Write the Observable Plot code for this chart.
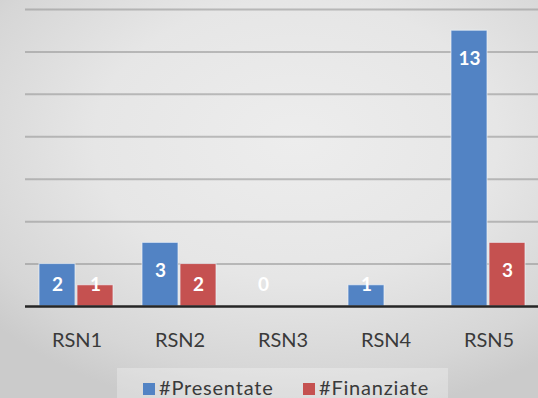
<!DOCTYPE html>
<html>
<head>
<meta charset="utf-8">
<script src="https://cdn.jsdelivr.net/npm/d3@7"></script>
<script src="https://cdn.jsdelivr.net/npm/@observablehq/plot@0.6"></script>
<style>
  html, body { margin: 0; padding: 0; }
  body {
    width: 538px; height: 398px; overflow: hidden; position: relative;
    font-family: Lato, "Open Sans", sans-serif;
    background: radial-gradient(ellipse 75% 70% at 55% 35%, #ededed 0%, #e6e6e6 50%, #d6d6d6 85%, #cbcbcb 100%);
  }
  #chart svg { display: block; background: transparent; }
  #legend {
    position: absolute; left: 117px; top: 368px; width: 331px; height: 40px;
    background: rgba(255,255,255,0.28);
    font-size: 20px; color: #3a3a3a; letter-spacing: 0.8px;
  }
  #legend .item { position: absolute; top: 7px; line-height: 24px; white-space: nowrap; }
  #legend .sw { display: inline-block; width: 12px; height: 12px; margin-right: 4px; vertical-align: 0px; }
</style>
</head>
<body>
<div id="chart"></div>
<div id="legend"></div>
<script>
// Progetti per rete: presentati e finanziati
const categories = ["RSN1", "RSN2", "RSN3", "RSN4", "RSN5"];
const seriesNames = ["#Presentate", "#Finanziate"];
const presentate = [2, 3, 0, 1, 13];
const finanziate = [1, 2, 0, 0, 3];
const gridTicks = [2, 4, 6, 8, 10, 12, 14];
const colors = ["#5283c4", "#c55150"];

const rows = categories.flatMap((c, i) => [
  {cat: c, series: seriesNames[0], value: presentate[i]},
  {cat: c, series: seriesNames[1], value: finanziate[i]}
]);

// value labels sit near the top of each bar, never lower than the first gridline band
const labelRows = rows.filter(d => !(d.series === seriesNames[1] && d.value === 0));

const chart = Plot.plot({
  width: 538,
  height: 360,
  marginTop: 9,
  marginBottom: 54,
  marginLeft: 24,
  marginRight: 0,
  style: {background: "transparent", fontFamily: "Lato, sans-serif"},
  fx: {domain: categories, range: [24, 541], padding: 0, label: null},
  x: {domain: seriesNames, paddingInner: 0.05, paddingOuter: 0.35, axis: null},
  y: {domain: [0, 14], axis: null},
  color: {domain: seriesNames, range: colors},
  marks: [
    Plot.gridY(gridTicks, {stroke: "#8f8f8f", strokeOpacity: 0.55, strokeWidth: 2}),
    Plot.barY(rows, {fx: "cat", x: "series", y: "value", fill: "series",
      stroke: "#eef3fa", strokeOpacity: 0.7, strokeWidth: 1}),
    Plot.ruleY([0], {stroke: "#262626", strokeWidth: 2.5}),
    Plot.text(labelRows, {fx: "cat", x: "series",
      y: d => Math.max(d.value - 1.32, 1.04),
      text: d => String(d.value),
      fill: "white", fontSize: 19, fontWeight: "bold", fontFamily: "Lato, sans-serif"}),
    Plot.axisFx({anchor: "bottom", tickSize: 0, tickPadding: 26, fontSize: 20,
      fill: "#3a3a3a", fontFamily: "Lato, sans-serif", label: null})
  ]
});
document.getElementById("chart").appendChild(chart);

// legend below the chart
const legend = document.getElementById("legend");
const legendX = [26, 186];
seriesNames.forEach((name, i) => {
  const item = document.createElement("div");
  item.className = "item";
  item.style.left = legendX[i] + "px";
  const sw = document.createElement("span");
  sw.className = "sw";
  sw.style.background = colors[i];
  item.appendChild(sw);
  item.appendChild(document.createTextNode(name));
  legend.appendChild(item);
});
</script>
</body>
</html>
